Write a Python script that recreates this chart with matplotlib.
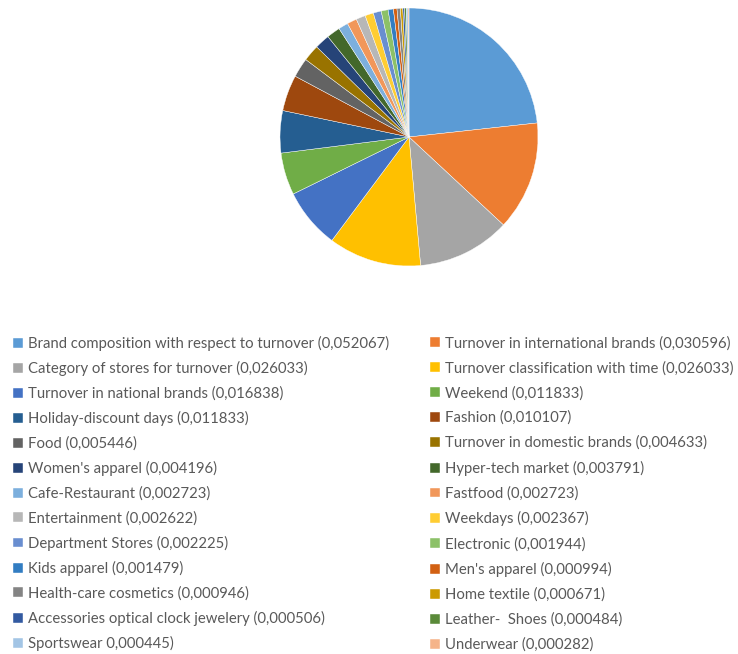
import matplotlib.pyplot as plt

labels = ["Brand composition with respect to turnover (0,052067)",
          "Turnover in international brands (0,030596)",
          "Category of stores for turnover (0,026033)",
          "Turnover classification with time (0,026033)",
          "Turnover in national brands (0,016838)",
          "Weekend (0,011833)",
          "Holiday-discount days (0,011833)",
          "Fashion (0,010107)",
          "Food (0,005446)",
          "Turnover in domestic brands (0,004633)",
          "Women's apparel (0,004196)",
          "Hyper-tech market (0,003791)",
          "Cafe-Restaurant (0,002723)",
          "Fastfood (0,002723)",
          "Entertainment (0,002622)",
          "Weekdays (0,002367)",
          "Department Stores (0,002225)",
          "Electronic (0,001944)",
          "Kids apparel (0,001479)",
          "Men's apparel (0,000994)",
          "Health-care cosmetics (0,000946)",
          "Home textile (0,000671)",
          "Accessories optical clock jewelery (0,000506)",
          "Leather-  Shoes (0,000484)",
          "Sportswear 0,000445)",
          "Underwear (0,000282)"]
values = [0.052067, 0.030596, 0.026033, 0.026033, 0.016838, 0.011833,
          0.011833, 0.010107, 0.005446, 0.004633, 0.004196, 0.003791,
          0.002723, 0.002723, 0.002622, 0.002367, 0.002225, 0.001944,
          0.001479, 0.000994, 0.000946, 0.000671, 0.000506, 0.000484,
          0.000445, 0.000282]
colors = ["#5B9BD5", "#ED7D31", "#A5A5A5", "#FFC000", "#4472C4", "#70AD47",
          "#255E91", "#9E480E", "#636363", "#997300", "#264478", "#43682B",
          "#7CAFDD", "#F1975A", "#B7B7B7", "#FFCD33", "#698ED0", "#8CC168",
          "#327DC2", "#D26012", "#848484", "#CC9A00", "#335AA1", "#5A8A39",
          "#A3C5E5", "#F5B48A"]

plt.rcParams['font.family'] = ['Lato', 'DejaVu Sans']

W, H = 738, 654
fig = plt.figure(figsize=(W / 100, H / 100), dpi=100)
cx, cy, r = 409, 137, 129
ax = fig.add_axes([(cx - r) / W, 1 - (cy + r) / H, 2 * r / W, 2 * r / H])
wedges, _ = ax.pie(values, colors=colors, startangle=90, counterclock=False,
                   radius=1, wedgeprops=dict(edgecolor="white", linewidth=0.3))
ax.set_xlim(-1, 1)
ax.set_ylim(-1, 1)
ax.axis("off")

common = dict(frameon=False, fontsize=10.7, handlelength=0.65, handleheight=0.65,
              handletextpad=0.35, borderaxespad=0, borderpad=0,
              labelcolor="#595959")
# the two columns are separate legends so each can sit where the reference has it
leg1 = fig.legend(wedges[0::2], labels[0::2], loc="upper left", labelspacing=0.69,
                  bbox_to_anchor=(13 / W, 1 - 336 / H), **common)
leg2 = fig.legend(wedges[1::2], labels[1::2], loc="upper left", labelspacing=0.713,
                  bbox_to_anchor=(430 / W, 1 - 336 / H), **common)

fig.savefig("out.png", dpi=100)
